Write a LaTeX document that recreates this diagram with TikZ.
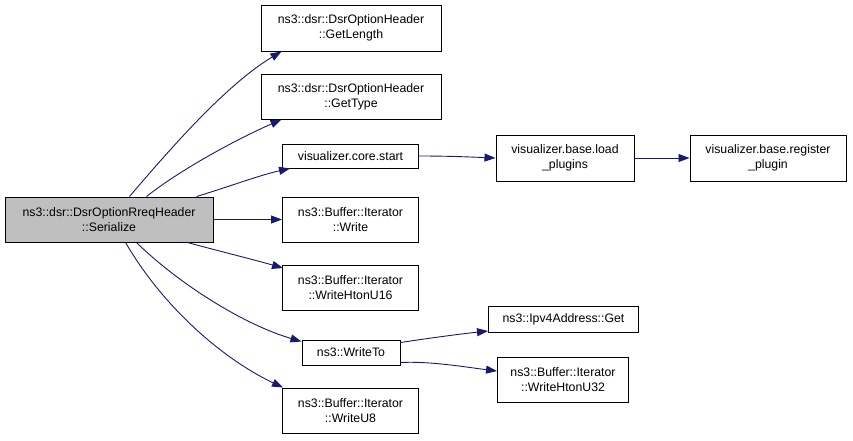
\documentclass[tikz,border=0pt]{standalone}
\usepackage{fontspec}
\setmainfont{Liberation Sans}
\usetikzlibrary{arrows.meta}
\definecolor{edgecol}{HTML}{191970}
\tikzset{
  box/.style={draw=black, line width=1pt, fill=white, align=center, inner sep=0pt,
    font=\fontsize{12.3pt}{15pt}\selectfont},
  edge/.style={draw=edgecol, line width=0.9pt, -{Triangle[length=11pt,width=8pt]}},
}
\begin{document}
\begin{tikzpicture}[x=1pt,y=-1pt]
\useasboundingbox (0,0) rectangle (853,440);
\node[box, fill={rgb,255:red,191;green,191;blue,191}, minimum width=208pt, minimum height=45pt] (ser) at (109,219.5) {ns3::dsr::DsrOptionRreqHeader\\::Serialize};
\node[box, minimum width=180pt, minimum height=46pt] (gl) at (351,28) {ns3::dsr::DsrOptionHeader\\::GetLength};
\node[box, minimum width=180pt, minimum height=45pt] (gt) at (351,96.5) {ns3::dsr::DsrOptionHeader\\::GetType};
\node[box, minimum width=136pt, minimum height=24pt] (cs) at (350.5,156) {visualizer.core.start};
\node[box, minimum width=136pt, minimum height=45pt] (wr) at (350.5,219.5) {ns3::Buffer::Iterator\\::Write};
\node[box, minimum width=136pt, minimum height=45pt] (w16) at (350.5,288) {ns3::Buffer::Iterator\\::WriteHtonU16};
\node[box, minimum width=98pt, minimum height=25pt] (wt) at (351,352.5) {ns3::WriteTo};
\node[box, minimum width=136pt, minimum height=45pt] (w8) at (350.5,410.5) {ns3::Buffer::Iterator\\::WriteU8};
\node[box, minimum width=138pt, minimum height=46pt] (lp) at (565,158) {visualizer.base.load\\\_plugins};
\node[box, minimum width=156pt, minimum height=46pt] (rp) at (768,158) {visualizer.base.register\\\_plugin};
\node[box, minimum width=150pt, minimum height=26pt] (ip) at (563.5,319.5) {ns3::Ipv4Address::Get};
\node[box, minimum width=131pt, minimum height=45pt] (w32) at (563,380) {ns3::Buffer::Iterator\\::WriteHtonU32};

\draw[edge] ([xshift=125pt]ser.north west) .. controls (165,155) and (225,85) .. ([xshift=21pt]gl.south west);
\draw[edge] ([xshift=142pt]ser.north west) .. controls (180,170) and (235,140) .. ([xshift=21pt]gt.south west);
\draw[edge] ([xshift=192pt]ser.north west) .. controls (225,188) and (260,175) .. ([xshift=8pt]cs.south west);
\draw[edge] (ser.east) -- (wr.west);
\draw[edge] ([xshift=183pt]ser.south west) .. controls (215,250) and (255,260) .. ([xshift=1pt,yshift=-3pt]w16.north west);
\draw[edge] ([xshift=132pt]ser.south west) .. controls (180,285) and (245,325) .. ([yshift=-2pt]wt.north west);
\draw[edge] ([xshift=121pt]ser.south west) .. controls (165,310) and (225,360) .. ([xshift=1pt]w8.north west);
\draw[edge] (cs.east) .. controls (450,156) and (470,157) .. (lp.west);
\draw[edge] (lp.east) -- (rp.west);
\draw[edge] ([yshift=-3pt]wt.north east) .. controls (430,338) and (460,334) .. ([yshift=2pt]ip.south west);
\draw[edge] ([yshift=3pt]wt.south east) .. controls (430,361) and (465,367) .. ([yshift=-14pt]w32.north west);
\end{tikzpicture}
\end{document}
